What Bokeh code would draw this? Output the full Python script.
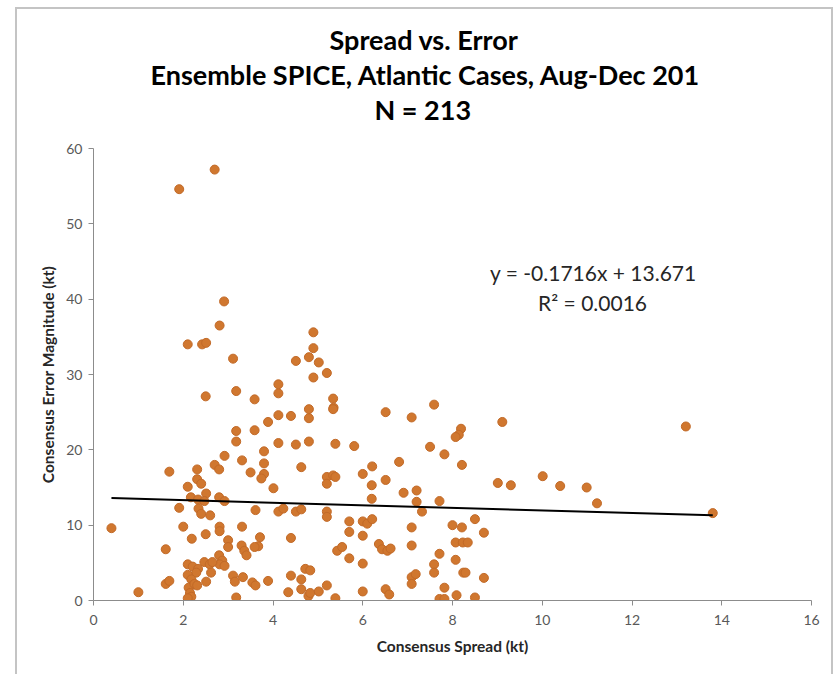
from bokeh.plotting import figure
from bokeh.models import Label, Title, Range1d, FixedTicker, ColumnDataSource
from bokeh.embed import file_html
from bokeh.resources import INLINE

spread = [
    2.70, 1.91, 2.91, 2.81, 2.10, 2.42, 2.51, 3.11,
    4.12, 4.12, 2.50, 3.18, 3.59, 3.89, 4.12, 4.40, 3.18, 3.59, 3.18, 4.12,
    3.80, 2.92, 3.31, 3.80, 2.70, 2.80, 1.69, 2.31, 3.50, 3.80, 3.74, 2.31, 2.40, 2.10, 4.01,
    2.51, 2.17, 2.80, 2.92, 2.33, 2.47, 1.91, 2.34, 2.40, 2.60, 3.61, 4.12, 4.23,
    0.40, 2.00, 2.81, 2.81, 3.31, 2.50, 2.19, 3.71, 3.67, 4.40, 3.00, 3.00, 3.30, 3.36, 3.41, 3.59,
    1.61, 2.80, 2.87, 2.81, 2.47, 2.59, 2.65, 2.10, 2.21, 2.33, 2.29, 2.92, 2.62, 2.51,
    3.11, 3.15, 3.33, 3.54, 3.61, 3.89, 4.40, 4.34, 1.61, 1.69, 1.00,
    2.10, 2.18, 2.23, 2.12, 2.15, 2.18, 2.10, 2.25, 2.31, 3.18,
    4.90, 4.90, 4.80, 5.02, 4.51, 5.20, 4.90, 5.34, 5.35, 5.34, 4.80, 4.80, 6.51, 7.09, 7.59,
    8.19, 8.14, 8.07, 4.51, 4.80, 5.39, 5.81, 7.50, 7.82, 8.21, 4.63, 6.81, 6.21, 6.00, 6.20, 6.51,
    5.20, 5.34, 5.39, 5.20, 6.20, 6.91, 7.20, 7.20, 7.32, 7.71, 4.51, 4.63, 5.20, 5.20, 5.70,
    6.00, 6.10, 6.21, 6.00, 5.70, 7.09, 7.09, 8.00, 8.21, 8.07, 8.23, 8.34,
    5.43, 5.54, 5.70, 6.36, 6.43, 6.55, 6.62, 6.00, 7.71, 7.59, 7.59, 8.07, 8.24, 8.29,
    7.09, 7.18, 7.09, 7.82, 7.71, 7.82, 8.09,
    4.63, 4.72, 4.83, 4.63, 4.79, 4.83, 5.02, 5.20, 5.39, 6.00, 6.51, 6.59,
    9.11, 13.20, 9.01, 9.30, 10.01, 10.40, 10.99, 11.22, 8.50, 8.70, 8.70, 8.50, 13.80,
]
error = [
    57.2, 54.6, 39.7, 36.5, 34.0, 34.0, 34.2, 32.1,
    28.7, 27.5, 27.1, 27.8, 26.7, 23.7, 24.6, 24.5, 22.5, 22.6, 21.1, 20.9,
    19.8, 19.2, 18.6, 18.2, 18.0, 17.4, 17.1, 17.4, 17.0, 16.8, 16.2, 16.1, 15.5, 15.1, 14.9,
    14.2, 13.7, 13.7, 13.2, 13.4, 13.2, 12.3, 12.2, 11.5, 11.3, 12.0, 11.8, 12.2,
    9.6, 9.8, 9.8, 9.2, 9.8, 8.8, 8.2, 8.4, 7.2, 8.3, 8.0, 7.1, 7.3, 6.6, 6.0, 7.1,
    6.8, 6.0, 5.3, 4.8, 5.1, 4.8, 5.1, 4.8, 4.5, 4.2, 3.7, 4.6, 3.7, 2.5,
    3.3, 2.5, 3.1, 2.4, 2.0, 2.6, 3.3, 1.1, 2.2, 2.6, 1.1,
    3.4, 2.8, 2.1, 1.7, 1.0, 0.5, 0.3, 2.2, 2.0, 0.4,
    35.6, 33.5, 32.3, 31.6, 31.8, 30.2, 29.6, 26.8, 25.6, 25.4, 25.4, 24.2, 25.0, 24.3, 26.0,
    22.8, 22.0, 21.7, 20.7, 21.1, 20.8, 20.5, 20.4, 19.4, 18.0, 17.7, 18.4, 17.8, 16.8, 15.3, 16.0,
    16.4, 16.6, 16.4, 15.5, 13.5, 14.3, 14.6, 13.1, 11.8, 13.2, 11.8, 12.1, 11.8, 11.1, 10.5,
    10.5, 10.2, 10.8, 8.6, 9.1, 9.7, 7.3, 10.0, 9.7, 7.7, 7.7, 7.7,
    6.6, 7.1, 5.6, 7.5, 6.8, 6.6, 6.9, 4.9, 6.2, 4.8, 3.7, 5.4, 3.7, 3.7,
    3.1, 3.5, 2.2, 1.7, 0.2, 0.2, 0.7,
    2.8, 4.2, 4.0, 1.5, 0.6, 1.0, 1.2, 2.0, 0.3, 1.2, 1.5, 0.8,
    23.7, 23.1, 15.6, 15.3, 16.5, 15.2, 15.0, 12.9, 10.8, 9.0, 3.0, 0.4, 11.6,
]

x_ticks = [0, 2, 4, 6, 8, 10, 12, 14, 16]
y_ticks = [0, 10, 20, 30, 40, 50, 60]
title_lines = ["Spread vs. Error", "Ensemble SPICE, Atlantic Cases, Aug-Dec 201", "N = 213"]
x_label = "Consensus Spread (kt)"
y_label = "Consensus Error Magnitude (kt)"
trend_slope = -0.1716
trend_intercept = 13.671
eq_text = "y = -0.1716x + 13.671"
r2_text = "R\u00b2 = 0.0016"

FONT = "Lato"

p = figure(width=818, height=667, output_backend="svg", toolbar_location=None,
           title=None,
           x_range=Range1d(0, 16), y_range=Range1d(0, 60),
           min_border_left=76, min_border_right=24, min_border_top=139, min_border_bottom=76)
p.margin = (7, 5, 0, 15)
p.styles = {"border-left": "2px solid #C4C4C4", "border-top": "2px solid #C4C4C4",
            "border-right": "2px solid #C4C4C4", "box-sizing": "border-box"}
p.background_fill_color = "white"
p.border_fill_color = "white"
p.outline_line_color = None
p.grid.visible = False

for ax, ticks in ((p.xaxis, x_ticks), (p.yaxis, y_ticks)):
    ax.ticker = FixedTicker(ticks=ticks)
    ax.minor_tick_line_color = None
    ax.major_tick_in = 0
    ax.major_tick_out = 5
    ax.axis_line_color = "#8C8C8C"
    ax.major_tick_line_color = "#8C8C8C"
    ax.major_label_text_font = FONT
    ax.major_label_text_font_size = "14px"
    ax.major_label_text_color = "#595959"
    ax.axis_label_text_font = FONT
    ax.axis_label_text_font_size = "15.5px"
    ax.axis_label_text_font_style = "bold"
    ax.axis_label_text_color = "#262626"

p.xaxis.axis_label = x_label
p.yaxis.axis_label = y_label
p.xaxis.major_label_standoff = 9
p.xaxis.axis_label_standoff = 9
p.yaxis.major_label_standoff = 6
p.yaxis.axis_label_standoff = 6

src = ColumnDataSource(dict(x=spread, y=error))
p.scatter("x", "y", source=src, size=9, fill_color="#D0772F", line_color="#C26A28", line_width=1)

x0, x1 = min(spread), max(spread)
p.line([x0, x1], [trend_slope * x0 + trend_intercept, trend_slope * x1 + trend_intercept],
       line_color="black", line_width=2)

p.add_layout(Label(x=11.14, y=43.5, text=eq_text, text_align="center", text_baseline="middle",
                   text_font=FONT, text_font_size="21px", text_color="#262626"))
p.add_layout(Label(x=11.12, y=39.6, text=r2_text, text_align="center", text_baseline="middle",
                   text_font=FONT, text_font_size="21px", text_color="#262626"))

# spacer between frame and the title block
p.add_layout(Title(text=" ", text_font_size="10px", standoff=10), "above")
title_offsets = [236, 57, 281]
for t, off in reversed(list(zip(title_lines, title_offsets))):
    p.add_layout(Title(text=t, align="left", offset=off, text_font=FONT, text_font_size="27px",
                       text_font_style="bold", text_color="black", standoff=0), "above")

open("out.html", "w").write(file_html(p, INLINE))
